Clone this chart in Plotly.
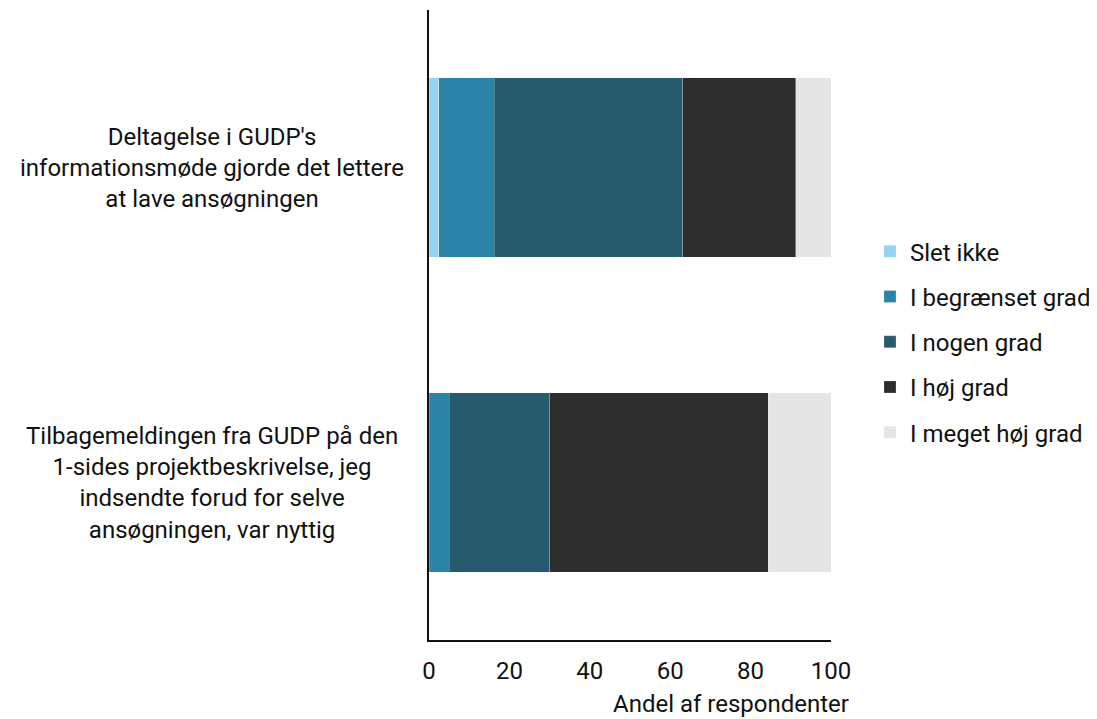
import plotly.graph_objects as go

categories = [
    "Deltagelse i GUDP's<br>informationsmøde gjorde det lettere<br>at lave ansøgningen",
    "Tilbagemeldingen fra GUDP på den<br>1-sides projektbeskrivelse, jeg<br>indsendte forud for selve<br>ansøgningen, var nyttig",
]
series_names = ["Slet ikke", "I begrænset grad", "I nogen grad", "I høj grad", "I meget høj grad"]
slet_ikke = [2.4, 0.0]
begraenset = [13.8, 5.0]
nogen = [46.9, 25.0]
hoej = [28.1, 54.4]
meget_hoej = [8.8, 15.6]
tick_values = [0, 20, 40, 60, 80, 100]
colors = ["#94d4ef", "#2b84a8", "#285a6d", "#2d2d2d", "#e5e5e5"]

FONT = "Roboto"
FS = 24
fig = go.Figure()
for i, (name, vals) in enumerate(zip(series_names, [slet_ikke, begraenset, nogen, hoej, meget_hoej])):
    fig.add_trace(go.Bar(
        y=[0, 1], x=vals, name=name, orientation="h",
        marker=dict(color=colors[i], line=dict(color="rgba(255,255,255,0.35)", width=0.6)),
        width=0.571, legendgroup=name,
    ))

for j, cat in enumerate(categories):
    fig.add_annotation(
        x=-0.540, y=j, xref="paper", yref="y", text=cat, showarrow=False,
        xanchor="center", align="center", font=dict(family=FONT, size=FS, color="#111"),
    )

fig.add_annotation(
    x=1.0498, y=-0.102, xref="paper", yref="paper",
    xanchor="right", yanchor="middle", text="Andel af respondenter",
    showarrow=False, font=dict(family=FONT, size=FS, color="#111"),
)

fig.update_layout(
    width=1097, height=719,
    margin=dict(l=421, r=274, t=2, b=87),
    barmode="stack",
    plot_bgcolor="white", paper_bgcolor="white",
    font=dict(family=FONT, size=FS, color="#111"),
    legend=dict(
        x=1.097, y=0.652, xanchor="left", yanchor="top",
        traceorder="grouped", tracegroupgap=11,
        font=dict(family=FONT, size=FS, color="#111"),
        itemwidth=30,
    ),
    xaxis=dict(
        range=[0, 100], tickvals=tick_values,
        showgrid=False, zeroline=False, showline=True, linecolor="#111", linewidth=2,
        ticks="", ticklabelstandoff=8,
        tickfont=dict(family=FONT, size=FS, color="#111"),
    ),
    yaxis=dict(
        range=[1.5, -0.5], showticklabels=False, showgrid=False, zeroline=False,
        showline=True, linecolor="#111", linewidth=2, ticks="",
    ),
)

fig.write_html("out.html")
